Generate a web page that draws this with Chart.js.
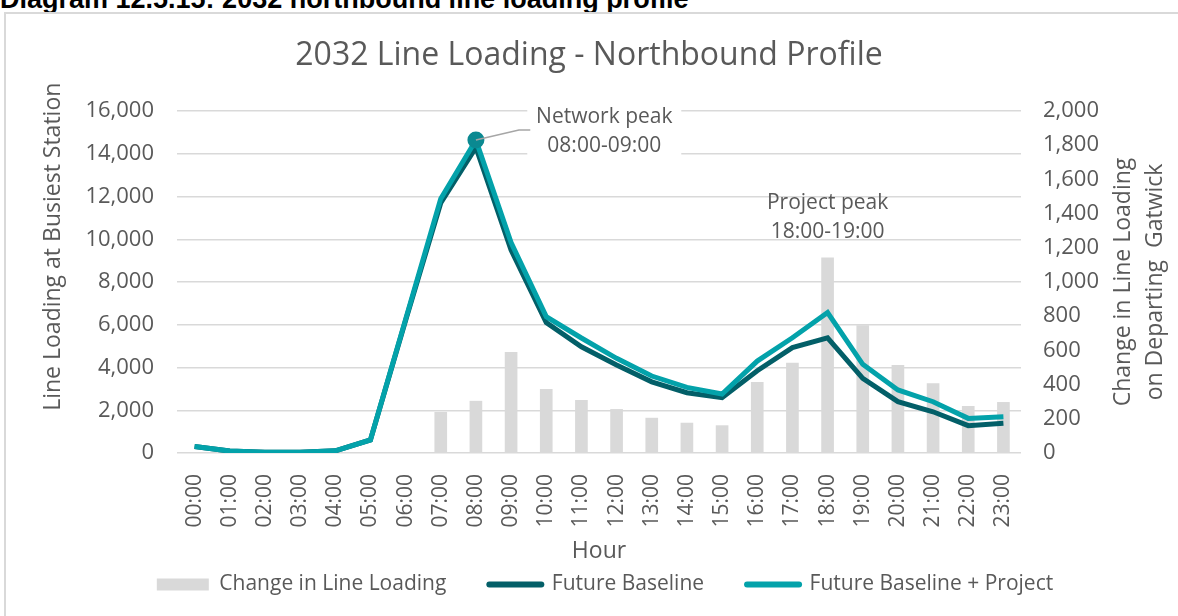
<!DOCTYPE html>
<html>
<head>
<meta charset="utf-8">
<script src="https://cdn.jsdelivr.net/npm/chart.js"></script>
<style>
  body { margin: 0; background: #fff; width: 1178px; height: 616px; overflow: hidden; position: relative; }
  #caption { position: absolute; left: 0; top: -14px; font: bold 27px "Liberation Sans", Arial, sans-serif; line-height: 27px; color: #000; white-space: nowrap; }
  #frame { position: absolute; left: 4px; top: 12px; width: 1300px; height: 700px; border: 2px solid #d9d9d9; }
  #chart { position: absolute; left: 0; top: 0; }
</style>
</head>
<body>
<div id="caption">Diagram 12.5.15: 2032 northbound line loading profile</div>
<div id="frame"></div>
<canvas id="chart" width="1178" height="616"></canvas>
<script>
// values
const hours = ['00:00', '01:00', '02:00', '03:00', '04:00', '05:00', '06:00', '07:00', '08:00', '09:00', '10:00', '11:00',
  '12:00', '13:00', '14:00', '15:00', '16:00', '17:00', '18:00', '19:00', '20:00', '21:00', '22:00', '23:00'];
const changeInLoading = [0, 0, 0, 0, 0, 0, 0, 240, 305, 590, 375, 310, 257, 206, 177, 162, 415, 528, 1144, 747, 515, 408, 275, 298];
const futureBaseline = [300, 90, 30, 30, 100, 610, 6200, 11700, 14300, 9500, 6100, 4970, 4120, 3330, 2820, 2590, 3850, 4930, 5390, 3490, 2400, 1930, 1280, 1390];
const baselinePlusProject = [300, 90, 30, 30, 100, 610, 6250, 11900, 14640, 9850, 6380, 5380, 4430, 3600, 3070, 2760, 4300, 5390, 6570, 4150, 2950, 2400, 1620, 1700];
const leftTicks = [0, 2000, 4000, 6000, 8000, 10000, 12000, 14000, 16000];
const rightTicks = [0, 200, 400, 600, 800, 1000, 1200, 1400, 1600, 1800, 2000];

const FONT = '"Open Sans", sans-serif';
const TXT = '#595959';
const fmt = v => Number(v).toLocaleString('en-US');

// annotations and axis titles drawn by hand (y titles read upwards)
const extras = {
  id: 'extras',
  afterLayout(chart) {
    // legend sits a little right of centre in the original
    const lg = chart.legend;
    lg.left += 16; lg.right += 16;
    lg.top -= 3; lg.bottom -= 3;
  },
  afterDatasetsDraw(chart) {
    const ctx = chart.ctx;
    const x = chart.scales.x, yL = chart.scales.y, yR = chart.scales.y1;
    ctx.save();
    ctx.font = '21px ' + FONT;
    ctx.textAlign = 'center';
    ctx.textBaseline = 'middle';

    // network peak
    const px = x.getPixelForValue(8), py = yL.getPixelForValue(baselinePlusProject[8]);
    const lx = x.getPixelForValue(11.65);
    ctx.fillStyle = '#fff';
    ctx.fillRect(lx - 77, yL.getPixelForValue(16300), 154, yL.getPixelForValue(13700) - yL.getPixelForValue(16300));
    ctx.strokeStyle = '#a6a6a6';
    ctx.lineWidth = 1.5;
    ctx.beginPath();
    ctx.moveTo(px, py);
    ctx.lineTo(px + 43, py - 10);
    ctx.lineTo(lx - 74, py - 10);
    ctx.stroke();
    ctx.fillStyle = TXT;
    ctx.fillText('Network peak', lx, yL.getPixelForValue(15700));
    ctx.fillText('08:00-09:00', lx, yL.getPixelForValue(14350));

    // project peak
    const qx = x.getPixelForValue(18);
    ctx.fillText('Project peak', qx, yL.getPixelForValue(11700));
    ctx.fillText('18:00-19:00', qx, yL.getPixelForValue(10340));

    // x axis title
    ctx.font = '23px ' + FONT;
    ctx.fillText('Hour', (chart.chartArea.left + chart.chartArea.right) / 2, chart.chartArea.bottom + 98);

    // left axis title
    ctx.save();
    ctx.translate(yL.left + 53, yL.getPixelForValue(9650));
    ctx.rotate(-Math.PI / 2);
    ctx.fillText('Line Loading at Busiest Station', 0, 0);
    ctx.restore();

    // right axis title
    const cy = (chart.chartArea.top + chart.chartArea.bottom) / 2;
    ctx.translate(yR.right - 55, cy);
    ctx.rotate(-Math.PI / 2);
    ctx.fillText('Change in Line Loading', 0, 0);
    ctx.fillText('on Departing  Gatwick', 0, 32);
    ctx.restore();
  }
};

new Chart(document.getElementById('chart'), {
  data: {
    labels: hours,
    datasets: [
      {
        type: 'bar', label: 'Change in Line Loading', data: changeInLoading, yAxisID: 'y1',
        backgroundColor: '#d9d9d9', barPercentage: 0.72, categoryPercentage: 0.5, order: 3
      },
      {
        type: 'line', label: 'Future Baseline', data: futureBaseline, yAxisID: 'y',
        borderColor: '#035f68', borderWidth: 5, pointRadius: 0, tension: 0, order: 2
      },
      {
        type: 'line', label: 'Future Baseline + Project', data: baselinePlusProject, yAxisID: 'y',
        borderColor: '#03a2aa', borderWidth: 5, tension: 0, order: 1,
        pointRadius: hours.map((h, i) => i === 8 ? 6 : 0),
        pointBackgroundColor: '#0b8991', pointBorderColor: '#0b8991'
      }
    ]
  },
  options: {
    responsive: false,
    animation: false,
    layout: { padding: { left: 0, right: 0, top: 0, bottom: 8 } },
    plugins: {
      tooltip: { enabled: false },
      title: {
        display: true, text: '2032 Line Loading - Northbound Profile', color: TXT,
        font: { family: FONT, size: 32, weight: 'normal' }, padding: { top: 37, bottom: 35.6 }
      },
      legend: {
        position: 'bottom',
        labels: {
          color: TXT, font: { family: FONT, size: 21 }, usePointStyle: true,
          pointStyleWidth: 52, boxHeight: 12, padding: 43,
          generateLabels: chart => chart.data.datasets.map((ds, i) => ({
            text: ds.label, datasetIndex: i, hidden: false, fontColor: TXT,
            fillStyle: ds.type === 'bar' ? ds.backgroundColor : ds.borderColor,
            strokeStyle: ds.type === 'bar' ? ds.backgroundColor : ds.borderColor,
            lineWidth: ds.type === 'bar' ? 0 : 6, lineCap: 'round',
            pointStyle: ds.type === 'bar' ? 'rect' : 'line'
          }))
        }
      }
    },
    scales: {
      x: {
        offset: true,
        grid: { display: false }, border: { display: false },
        ticks: { color: TXT, font: { family: FONT, size: 21 }, minRotation: 90, maxRotation: 90, padding: 13, autoSkip: false },
        afterFit: s => { s.height = 81; }
      },
      y: {
        position: 'left', min: 0, max: 16000,
        afterBuildTicks: s => { s.ticks = leftTicks.map(v => ({ value: v })); },
        grid: { color: '#d9d9d9', lineWidth: 1.5, drawTicks: false }, border: { display: false },
        ticks: { color: TXT, font: { family: FONT, size: 22 }, padding: 23, callback: v => fmt(v) },
        afterFit: s => { s.width = 177; }
      },
      y1: {
        position: 'right', min: 0, max: 2000,
        afterBuildTicks: s => { s.ticks = rightTicks.map(v => ({ value: v })); },
        grid: { display: false, drawTicks: false }, border: { display: false },
        ticks: { color: TXT, font: { family: FONT, size: 22 }, padding: 22, callback: v => fmt(v) },
        afterFit: s => { s.width = 157; }
      }
    }
  },
  plugins: [extras]
});
</script>
</body>
</html>
